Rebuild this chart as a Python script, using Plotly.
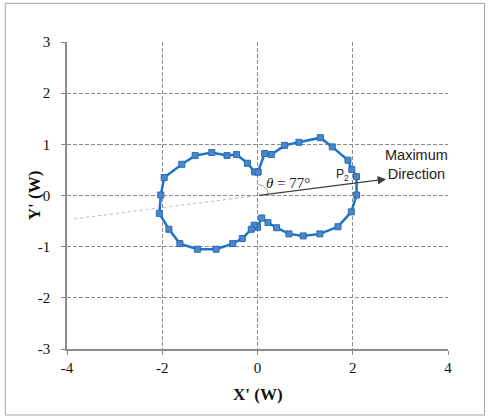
import numpy as np
import plotly.graph_objects as go

# Measured pattern (X', Y') in W, ordered around the loop
x_vals = [0.01, 0.15, 0.29, 0.57, 0.87, 1.32, 1.57, 1.90, 1.98, 2.08, 2.08, 1.97, 1.69, 1.31,
          0.96, 0.66, 0.40, 0.22, 0.09, 0.00, -0.07, -0.13, -0.32, -0.52, -0.87, -1.26,
          -1.63, -1.86, -2.06, -2.03, -1.96, -1.59, -1.31, -0.96, -0.64, -0.44, -0.21,
          -0.06, 0.01]
y_vals = [0.46, 0.82, 0.80, 0.98, 1.04, 1.13, 0.95, 0.69, 0.51, 0.37, 0.01, -0.32, -0.61, -0.75,
          -0.79, -0.75, -0.63, -0.53, -0.44, -0.62, -0.58, -0.66, -0.84, -0.94, -1.05, -1.05,
          -0.94, -0.66, -0.35, 0.01, 0.35, 0.61, 0.78, 0.84, 0.78, 0.80, 0.63,
          0.46, 0.46]

x_ticks = [-4, -2, 0, 2, 4]
x_tick_text = ["-4", "-2", "0", "2", "4"]
y_ticks = [-3, -2, -1, 0, 1, 2, 3]
y_tick_text = ["-3", "-2", "-1", "0", "1", "2", "3"]

max_dir = (2.70, 0.32)      # arrow tip of the maximum direction

fig = go.Figure()

# dotted continuation of maximum direction to the left
slope = max_dir[1] / max_dir[0]
xb = -3.85
fig.add_trace(go.Scatter(x=[xb, 0], y=[slope * xb, 0], mode="lines",
                         line=dict(color="#B8B8B8", width=1, dash="dot"),
                         hoverinfo="skip", showlegend=False))

# small angle arc
t = np.linspace(np.arctan2(max_dir[1] / 51.2 * 47.7, max_dir[0]) + 0.05, np.pi / 2, 20)
r_px = 11
fig.add_trace(go.Scatter(x=r_px / 47.7 * np.cos(t), y=r_px / 51.2 * np.sin(t), mode="lines",
                         line=dict(color="#A0A0A0", width=1),
                         hoverinfo="skip", showlegend=False))

fig.add_trace(go.Scatter(x=x_vals, y=y_vals, mode="lines+markers",
                         line=dict(color="#1B75C9", width=2.5),
                         marker=dict(symbol="square", size=6, color="#4A86C8",
                                     line=dict(color="#2B6CB5", width=1)),
                         showlegend=False))

# arrow
fig.add_annotation(x=max_dir[0], y=max_dir[1], ax=0, ay=0, xref="x", yref="y",
                   axref="x", ayref="y", showarrow=True, arrowhead=2, arrowsize=1.3,
                   arrowwidth=1.3, arrowcolor="#404040", text="")

fig.add_annotation(x=0.63, y=0.25, xref="x", yref="y", text="<i>θ</i> = 77°",
                   showarrow=False, font=dict(family="Liberation Serif", size=15, color="#222"))
fig.add_annotation(x=1.79, y=0.40, xref="x", yref="y", text="P<sub>2</sub>",
                   showarrow=False, font=dict(family="Liberation Sans", size=12, color="#222"))
fig.add_annotation(x=3.34, y=0.61, xref="x", yref="y", text="Maximum<br>Direction",
                   showarrow=False, align="center",
                   font=dict(family="Liberation Sans", size=14.5, color="#222"))

# axis titles
fig.add_annotation(x=0.5, y=-0.185, xref="paper", yref="paper", text="<b>X' (W)</b>",
                   showarrow=False, font=dict(family="Liberation Serif", size=17, color="#111"))
fig.add_annotation(x=-0.115, y=0.5, xref="paper", yref="paper", text="<b>Y' (W)</b>",
                   textangle=-90, showarrow=False,
                   font=dict(family="Liberation Serif", size=17, color="#111"))

# outer border
fig.add_shape(type="rect", xref="paper", yref="paper", x0=-0.162, x1=1.096, y0=-0.215, y1=1.126,
              line=dict(color="#A0A0A0", width=1), fillcolor="rgba(0,0,0,0)", layer="below")

axis_common = dict(showgrid=True, gridcolor="#8C8C8C", griddash="4px,2px", gridwidth=1,
                   zeroline=False, showline=True, linecolor="#8C8C8C", linewidth=1.5,
                   ticks="outside", ticklen=4, tickcolor="#8C8C8C",
                   tickfont=dict(family="Liberation Serif", size=15, color="#111"))

fig.update_xaxes(range=[-4, 4], tickvals=x_ticks, ticktext=x_tick_text, **axis_common)
fig.update_yaxes(range=[-3, 3], tickvals=y_ticks, ticktext=y_tick_text,
                 ticklabelstandoff=8, **axis_common)

fig.update_layout(width=493, height=419, margin=dict(l=67, r=45, t=42, b=70),
                  plot_bgcolor="white", paper_bgcolor="white")

fig.write_html("out.html")
